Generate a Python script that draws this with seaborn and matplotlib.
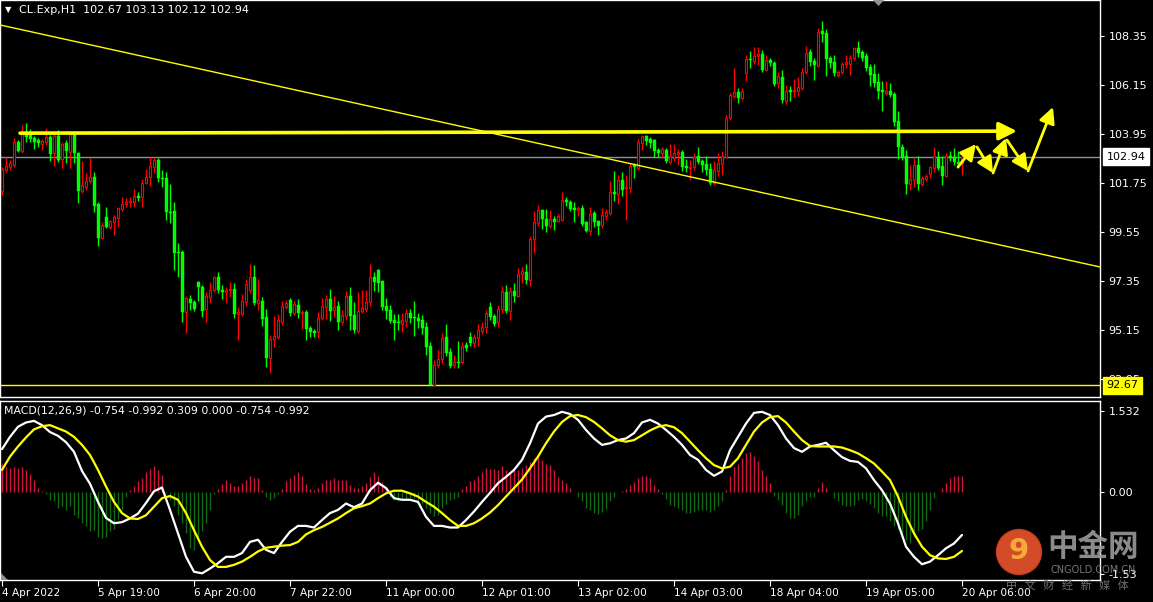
"""CL.Exp H1 K线 + MACD 走势图复刻"""
import numpy as np
import pandas as pd
import matplotlib
matplotlib.use('Agg')
import matplotlib.pyplot as plt
import matplotlib.transforms as mtransforms
from matplotlib.patches import Circle, Polygon
import seaborn as sns

# K线数据（每根一小时，从左到右）
opens = [
    101.39, 102.33, 102.47, 102.56, 103.59, 103.19, 104.04, 103.91, 103.77, 103.68,
    103.50, 103.59, 103.82, 103.10, 103.86, 102.83, 103.55, 103.14, 103.99, 103.10,
    101.39, 101.57, 101.84, 102.02, 100.81, 99.28, 100.23, 99.78, 100.00, 100.18,
    100.59, 100.81, 100.90, 100.90, 101.17, 101.12, 101.75, 102.02, 102.47, 102.78,
    101.98, 101.98, 100.45, 100.50, 98.65, 98.65, 95.96, 96.54, 96.41, 97.31,
    97.08, 96.10, 96.63, 96.95, 97.53, 96.95, 96.86, 96.95, 96.99, 95.87,
    95.87, 96.41, 96.95, 97.53, 96.36, 96.45, 95.74, 93.89, 94.75, 94.84,
    95.51, 96.19, 96.50, 95.92, 96.27, 95.92, 95.96, 95.24, 95.11, 95.06,
    95.69, 96.19, 96.54, 96.05, 96.23, 95.51, 95.78, 96.68, 95.83, 95.11,
    96.01, 96.10, 96.41, 97.53, 97.84, 97.35, 96.23, 96.05, 95.60, 95.51,
    95.42, 95.56, 95.92, 95.74, 95.69, 95.60, 95.29, 94.43, 92.67, 93.58,
    93.85, 94.84, 94.16, 93.58, 93.71, 93.71, 94.48, 94.84, 94.57, 94.79,
    95.11, 95.29, 96.19, 95.78, 95.51, 96.10, 96.86, 96.01, 96.91, 96.68,
    97.66, 97.75, 97.40, 99.24, 99.96, 100.54, 100.14, 99.82, 100.14, 100.05,
    100.09, 100.99, 100.90, 100.63, 100.54, 100.63, 100.00, 99.60, 100.41, 100.05,
    99.87, 100.27, 100.41, 101.35, 101.26, 101.89, 101.53, 101.53, 102.56, 102.42,
    103.55, 103.86, 103.73, 103.68, 103.23, 103.10, 103.23, 102.69, 102.87, 103.05,
    103.14, 102.51, 102.42, 102.47, 102.96, 102.74, 102.60, 102.38, 101.75, 102.29,
    102.60, 102.92, 104.67, 105.66, 105.84, 105.57, 106.69, 107.32, 107.23, 107.45,
    107.54, 106.82, 107.27, 107.14, 106.24, 106.51, 105.43, 105.93, 105.88, 105.88,
    106.02, 106.73, 107.63, 107.23, 107.00, 108.58, 108.49, 107.36, 107.18, 106.60,
    106.73, 107.09, 107.09, 107.36, 107.81, 107.63, 107.45, 106.96, 106.64, 106.29,
    105.93, 105.79, 105.88, 105.75, 104.53, 103.37, 102.96, 101.71, 101.89, 102.56,
    101.71, 101.93, 102.15, 102.42, 102.92, 102.51, 102.06, 102.96, 102.92, 102.69,
    102.67,
]
highs = [
    102.47, 102.92, 102.78, 103.77, 103.68, 104.36, 104.45, 104.18, 103.86, 103.77,
    103.73, 104.22, 103.91, 103.99, 104.13, 103.59, 103.68, 104.04, 104.04, 103.14,
    102.74, 102.20, 102.87, 102.24, 100.90, 100.00, 100.68, 100.09, 100.32, 100.68,
    101.12, 101.08, 101.12, 101.48, 101.35, 101.93, 102.38, 102.92, 102.92, 102.87,
    102.33, 102.24, 101.71, 100.90, 99.06, 98.74, 96.68, 96.72, 96.50, 97.35,
    97.17, 96.86, 97.31, 97.58, 97.75, 97.17, 97.08, 97.31, 97.26, 96.19,
    96.77, 97.44, 98.11, 98.07, 97.44, 96.63, 96.10, 94.93, 95.78, 95.87,
    96.45, 96.50, 96.59, 96.45, 96.54, 96.05, 96.05, 95.33, 95.20, 95.96,
    96.59, 96.72, 96.99, 96.68, 96.45, 96.05, 96.91, 97.08, 96.41, 96.86,
    96.95, 96.95, 98.11, 97.75, 97.89, 97.40, 96.59, 96.27, 95.87, 95.87,
    95.92, 96.10, 96.10, 96.45, 95.92, 95.83, 95.51, 94.61, 93.80, 94.25,
    95.02, 95.42, 94.34, 94.03, 94.66, 94.61, 94.61, 95.06, 94.97, 95.42,
    95.51, 96.05, 96.41, 95.87, 96.27, 97.13, 97.17, 97.08, 97.26, 97.93,
    97.98, 98.11, 99.37, 100.50, 100.77, 100.59, 100.59, 100.54, 100.27, 100.36,
    101.35, 101.12, 100.99, 100.90, 100.72, 100.77, 100.05, 100.68, 100.50, 100.09,
    100.63, 100.59, 101.84, 102.29, 102.11, 102.24, 102.11, 102.65, 102.65, 103.73,
    103.91, 103.91, 103.82, 103.73, 103.32, 103.37, 103.32, 103.50, 103.50, 103.28,
    103.23, 102.83, 102.78, 103.10, 103.37, 102.83, 102.96, 102.65, 102.74, 103.10,
    103.19, 104.80, 105.79, 106.91, 106.02, 106.02, 107.50, 107.68, 107.86, 107.86,
    107.72, 107.50, 107.36, 107.23, 106.73, 106.82, 106.15, 106.11, 106.42, 106.51,
    106.91, 107.90, 107.77, 107.36, 108.71, 109.03, 108.67, 107.45, 107.50, 106.82,
    107.18, 107.50, 107.50, 107.86, 108.13, 107.72, 107.59, 107.09, 107.09, 106.69,
    106.33, 106.33, 106.24, 105.84, 104.98, 103.50, 103.23, 102.56, 102.87, 102.96,
    102.06, 102.15, 102.51, 103.37, 103.19, 102.96, 103.10, 103.19, 103.32, 103.19,
    103.13,
]
lows = [
    101.21, 102.24, 102.33, 102.47, 103.14, 103.10, 103.59, 103.59, 103.28, 103.37,
    103.23, 103.46, 102.74, 102.51, 102.69, 102.42, 102.65, 102.42, 102.65, 100.85,
    101.30, 101.44, 101.75, 100.45, 98.92, 99.24, 99.73, 99.69, 99.42, 99.78,
    100.50, 100.68, 100.68, 100.68, 100.94, 100.68, 101.71, 101.62, 102.20, 101.80,
    101.57, 100.09, 99.96, 97.84, 97.53, 95.51, 95.02, 96.05, 96.01, 96.45,
    95.74, 95.51, 96.36, 96.86, 96.82, 96.54, 96.36, 96.63, 95.69, 94.70,
    95.78, 96.23, 96.82, 96.27, 96.05, 95.33, 93.49, 93.22, 94.39, 94.75,
    95.38, 96.10, 95.78, 95.83, 95.69, 95.20, 94.70, 94.84, 94.84, 94.79,
    95.60, 95.65, 95.56, 95.74, 95.15, 95.38, 95.60, 95.15, 95.02, 95.02,
    95.92, 95.96, 96.23, 96.91, 96.86, 96.05, 95.65, 95.47, 94.70, 95.15,
    95.06, 95.29, 95.47, 94.88, 95.24, 94.97, 94.03, 92.67, 92.62, 93.44,
    93.67, 93.98, 93.44, 93.44, 93.44, 93.62, 94.21, 94.43, 94.39, 94.43,
    94.97, 95.02, 95.60, 95.33, 95.29, 95.92, 95.92, 95.60, 96.41, 96.63,
    97.26, 97.22, 97.13, 98.61, 99.82, 99.69, 99.55, 99.73, 99.64, 100.00,
    100.05, 100.72, 100.50, 100.00, 100.27, 99.82, 99.55, 99.42, 99.78, 99.42,
    99.73, 100.09, 100.32, 100.94, 100.81, 101.17, 100.09, 101.30, 101.98, 102.33,
    103.23, 103.46, 103.32, 102.92, 102.92, 102.87, 102.65, 102.60, 102.74, 102.56,
    102.29, 102.24, 101.89, 102.33, 102.60, 102.24, 102.11, 101.66, 101.66, 102.06,
    102.11, 102.87, 104.58, 105.57, 105.34, 105.48, 106.33, 106.91, 107.09, 107.05,
    106.73, 106.78, 107.00, 106.11, 106.02, 105.34, 105.30, 105.43, 105.61, 105.66,
    105.93, 106.64, 107.00, 106.37, 106.96, 108.08, 106.55, 106.91, 106.55, 106.51,
    106.64, 106.91, 106.60, 107.27, 107.41, 107.23, 106.78, 106.11, 106.06, 105.52,
    104.98, 105.70, 105.61, 104.31, 102.83, 102.78, 101.26, 101.44, 101.57, 101.44,
    101.62, 101.84, 101.98, 102.24, 102.33, 101.66, 102.02, 102.74, 102.56, 102.42,
    102.12,
]
closes = [
    102.38, 102.51, 102.65, 103.59, 103.19, 104.04, 103.82, 103.73, 103.59, 103.55,
    103.64, 103.82, 103.05, 103.86, 102.78, 103.50, 103.19, 103.99, 103.10, 101.39,
    101.66, 101.84, 102.02, 100.72, 99.28, 99.87, 99.78, 100.05, 100.23, 100.63,
    100.81, 100.90, 100.94, 101.17, 101.08, 101.75, 102.02, 102.51, 102.78, 101.98,
    101.93, 100.45, 100.41, 98.61, 98.61, 95.96, 96.59, 96.36, 96.10, 97.08,
    96.01, 96.68, 96.95, 97.53, 96.95, 96.86, 96.95, 96.99, 95.87, 95.96,
    96.45, 97.22, 97.53, 96.36, 96.50, 95.65, 93.89, 94.75, 94.88, 95.60,
    96.23, 96.36, 95.92, 96.32, 95.92, 95.96, 95.20, 95.06, 95.02, 95.69,
    96.23, 96.54, 96.01, 96.19, 95.51, 95.83, 96.68, 95.78, 95.15, 96.01,
    96.14, 96.41, 97.53, 97.31, 97.26, 96.19, 96.01, 95.56, 95.47, 95.47,
    95.60, 95.92, 95.69, 95.69, 95.56, 95.24, 94.39, 92.67, 93.58, 93.85,
    94.79, 94.12, 93.53, 93.71, 93.67, 94.43, 94.34, 94.57, 94.84, 95.15,
    95.29, 95.92, 95.74, 95.42, 96.10, 96.91, 96.01, 96.91, 96.68, 97.66,
    97.80, 97.40, 99.24, 100.00, 100.54, 100.14, 99.82, 100.14, 100.00, 100.27,
    100.99, 100.90, 100.59, 100.54, 100.63, 99.91, 99.60, 100.36, 100.00, 99.82,
    100.32, 100.45, 101.35, 101.26, 101.89, 101.44, 101.57, 102.51, 102.47, 103.59,
    103.86, 103.64, 103.55, 103.19, 103.10, 103.28, 102.74, 102.96, 103.10, 103.14,
    102.47, 102.42, 102.47, 102.92, 102.69, 102.56, 102.33, 101.75, 102.33, 102.65,
    102.96, 104.67, 105.70, 105.84, 105.57, 105.88, 107.32, 107.27, 107.45, 107.54,
    106.82, 107.27, 107.14, 106.20, 106.55, 105.48, 105.88, 105.84, 105.93, 106.06,
    106.73, 107.59, 107.18, 107.05, 108.53, 108.44, 107.32, 107.14, 106.69, 106.73,
    107.09, 107.18, 107.36, 107.81, 107.59, 107.36, 106.91, 106.60, 106.24, 105.88,
    105.84, 105.88, 105.70, 104.49, 103.37, 102.92, 101.71, 101.93, 102.56, 101.71,
    101.98, 102.06, 102.47, 102.96, 102.42, 102.06, 102.96, 102.87, 102.69, 102.60,
    102.94,
]

# MACD 主线 / 信号线（每两根K线读一个点）
macd_bars = [
    0, 2, 4, 6, 8, 10, 12, 14, 16, 18, 20, 22, 24, 26, 28, 30, 32, 34, 36, 38,
    40, 42, 44, 46, 48, 50, 52, 54, 56, 58, 60, 62, 64, 66, 68, 70, 72, 74, 76, 78,
    80, 82, 84, 86, 88, 90, 92, 94, 96, 98, 100, 102, 104, 106, 108, 110, 112, 114, 116, 118,
    120, 122, 124, 126, 128, 130, 132, 134, 136, 138, 140, 142, 144, 146, 148, 150, 152, 154, 156, 158,
    160, 162, 164, 166, 168, 170, 172, 174, 176, 178, 180, 182, 184, 186, 188, 190, 192, 194, 196, 198,
    200, 202, 204, 206, 208, 210, 212, 214, 216, 218, 220, 222, 224, 226, 228, 230, 232, 234, 236, 238,
    240,
]
macd_main = [
    0.81, 1.04, 1.23, 1.31, 1.34, 1.26, 1.13, 1.06, 0.94, 0.76,
    0.40, 0.16, -0.18, -0.48, -0.58, -0.56, -0.49, -0.40, -0.20, 0.02,
    0.09, -0.33, -0.77, -1.21, -1.49, -1.52, -1.43, -1.33, -1.21, -1.21,
    -1.14, -0.93, -0.89, -1.08, -1.14, -0.93, -0.74, -0.63, -0.63, -0.66,
    -0.52, -0.39, -0.33, -0.21, -0.28, -0.21, 0.04, 0.18, 0.08, -0.11,
    -0.14, -0.14, -0.18, -0.46, -0.63, -0.63, -0.66, -0.66, -0.52, -0.36,
    -0.18, -0.01, 0.17, 0.29, 0.42, 0.61, 0.92, 1.29, 1.42, 1.45,
    1.51, 1.47, 1.36, 1.17, 1.01, 0.89, 0.92, 0.98, 1.01, 1.11,
    1.31, 1.36, 1.29, 1.17, 1.04, 0.89, 0.70, 0.61, 0.42, 0.31,
    0.39, 0.79, 1.04, 1.29, 1.49, 1.51, 1.45, 1.26, 1.01, 0.83,
    0.76, 0.86, 0.89, 0.93, 0.79, 0.66, 0.59, 0.57, 0.45, 0.23,
    0.04, -0.21, -0.58, -1.02, -1.21, -1.35, -1.30, -1.18, -1.05, -0.96,
    -0.80,
]
macd_signal = [
    0.42, 0.67, 0.86, 1.03, 1.18, 1.24, 1.26, 1.20, 1.14, 1.04,
    0.89, 0.70, 0.42, 0.11, -0.18, -0.39, -0.49, -0.50, -0.43, -0.27,
    -0.11, -0.07, -0.14, -0.39, -0.71, -1.02, -1.27, -1.40, -1.40, -1.36,
    -1.30, -1.21, -1.11, -1.04, -1.02, -1.00, -0.99, -0.93, -0.79, -0.71,
    -0.65, -0.57, -0.49, -0.39, -0.30, -0.26, -0.21, -0.11, -0.02, 0.03,
    0.03, -0.02, -0.08, -0.18, -0.27, -0.39, -0.52, -0.63, -0.63, -0.58,
    -0.49, -0.38, -0.24, -0.08, 0.08, 0.24, 0.45, 0.67, 0.92, 1.14,
    1.32, 1.43, 1.45, 1.41, 1.32, 1.20, 1.07, 0.98, 0.95, 0.98,
    1.07, 1.16, 1.23, 1.26, 1.22, 1.11, 0.95, 0.79, 0.64, 0.51,
    0.45, 0.48, 0.64, 0.89, 1.14, 1.31, 1.41, 1.43, 1.31, 1.14,
    0.98, 0.87, 0.86, 0.86, 0.86, 0.84, 0.79, 0.73, 0.64, 0.54,
    0.39, 0.23, -0.08, -0.46, -0.77, -1.02, -1.18, -1.24, -1.25, -1.21,
    -1.10,
]
# MACD 柱（每根K线一个）
macd_hist = [
    0.53, 0.47, 0.45, 0.47, 0.45, 0.47, 0.41, 0.34, 0.23, 0.09,
    0.02, -0.04, -0.15, -0.17, -0.30, -0.26, -0.34, -0.26, -0.43, -0.49,
    -0.58, -0.64, -0.73, -0.71, -0.84, -0.86, -0.83, -0.73, -0.68, -0.51,
    -0.34, -0.08, 0.04, 0.11, 0.21, 0.26, 0.39, 0.43, 0.49, 0.41,
    0.32, -0.02, -0.15, -0.26, -0.43, -0.58, -0.77, -1.05, -1.09, -0.90,
    -0.73, -0.58, -0.34, -0.04, 0.06, 0.15, 0.23, 0.17, 0.11, 0.11,
    0.17, 0.23, 0.30, 0.26, 0.26, 0.04, -0.08, -0.15, -0.11, -0.04,
    0.06, 0.21, 0.26, 0.32, 0.38, 0.30, 0.15, 0.06, 0.04, 0.09,
    0.17, 0.23, 0.24, 0.26, 0.23, 0.23, 0.24, 0.13, 0.08, 0.08,
    0.11, 0.17, 0.28, 0.38, 0.30, 0.19, 0.09, -0.08, -0.15, -0.17,
    -0.11, -0.13, -0.11, -0.11, -0.15, -0.21, -0.30, -0.39, -0.45, -0.43,
    -0.30, -0.21, -0.15, -0.13, -0.08, 0.06, 0.11, 0.21, 0.23, 0.30,
    0.39, 0.45, 0.43, 0.43, 0.41, 0.49, 0.41, 0.38, 0.41, 0.41,
    0.45, 0.51, 0.56, 0.64, 0.71, 0.60, 0.54, 0.51, 0.41, 0.28,
    0.23, 0.17, 0.08, 0.00, -0.08, -0.17, -0.30, -0.34, -0.38, -0.41,
    -0.36, -0.32, -0.17, -0.09, 0.00, 0.02, 0.06, 0.13, 0.19, 0.26,
    0.30, 0.30, 0.26, 0.13, 0.06, -0.04, -0.13, -0.23, -0.26, -0.30,
    -0.34, -0.39, -0.39, -0.36, -0.34, -0.34, -0.34, -0.36, -0.34, -0.26,
    -0.17, 0.04, 0.30, 0.47, 0.54, 0.64, 0.73, 0.75, 0.68, 0.58,
    0.41, 0.30, 0.17, -0.06, -0.15, -0.24, -0.39, -0.49, -0.49, -0.43,
    -0.26, -0.17, -0.09, -0.08, 0.09, 0.19, 0.09, 0.00, -0.11, -0.17,
    -0.24, -0.26, -0.26, -0.23, -0.15, -0.13, -0.17, -0.21, -0.30, -0.39,
    -0.45, -0.45, -0.53, -0.64, -0.68, -0.83, -0.90, -0.96, -0.84, -0.73,
    -0.68, -0.53, -0.34, -0.11, 0.00, 0.08, 0.17, 0.26, 0.30, 0.30,
    0.31,
]

# 坐标轴刻度
tick_bars = [0, 24, 48, 72, 96, 120, 144, 168, 192, 216, 240]
tick_labels = ['4 Apr 2022', '5 Apr 19:00', '6 Apr 20:00', '7 Apr 22:00', '11 Apr 00:00',
               '12 Apr 01:00', '13 Apr 02:00', '14 Apr 03:00', '18 Apr 04:00',
               '19 Apr 05:00', '20 Apr 06:00']
price_ticks = [108.35, 106.15, 103.95, 101.75, 99.55, 97.35, 95.15, 92.95]
macd_ticks = [1.532, 0.0, -1.53]
macd_tick_labels = ['1.532', '0.00', '-1.53']
macd_caption = 'MACD(12,26,9) -0.754 -0.992 0.309 0.000 -0.754 -0.992'

# 画线：趋势线、压力线、支撑线、预测走势箭头
last_price = 102.94
support_price = 92.67
trend_line = [(-0.5, 108.85), (274.5, 97.98)]
resist_line = [(4.5, 103.99), (253.75, 104.08)]
zigzag = [
    ((239.0, 102.47), (243.5, 103.50)),
    ((243.75, 103.37), (247.75, 102.20)),
    ((247.75, 102.20), (251.0, 103.77)),
    ((251.25, 103.68), (256.5, 102.29)),
    ((256.5, 102.29), (262.75, 105.16)),
]

UP = '#ff0000'
DOWN = '#00ff00'
YELLOW = '#ffff00'


def draw_candles(ax, df):
    up = df['close'] >= df['open']
    ax.vlines(df['bar'], df['low'], df['high'],
              colors=np.where(up, UP, DOWN), lw=1.0, zorder=2)
    body_lo = df[['open', 'close']].min(axis=1)
    body_h = (df['close'] - df['open']).abs().clip(lower=0.03)
    # 阳线空心红框，阴线实心绿
    ax.bar(df['bar'][up], body_h[up], bottom=body_lo[up], width=0.55,
           color='black', edgecolor=UP, linewidth=0.8, zorder=3)
    ax.bar(df['bar'][~up], body_h[~up], bottom=body_lo[~up], width=0.75,
           color=DOWN, edgecolor=DOWN, linewidth=0.3, zorder=3)


def main():
    sns.set_theme(style='ticks', rc={
        'axes.facecolor': 'black', 'figure.facecolor': 'black',
        'axes.edgecolor': 'white', 'text.color': 'white',
        'xtick.color': 'white', 'ytick.color': 'white',
        'axes.grid': False,
    })
    plt.rcParams['font.family'] = ['DejaVu Sans', 'Noto Sans CJK SC']

    W, H = 1153, 602
    fig = plt.figure(figsize=(W / 100, H / 100), dpi=100, facecolor='black')
    ax1 = fig.add_axes([0, (H - 397) / H, 1100 / W, 397 / H])
    ax2 = fig.add_axes([0, (H - 580) / H, 1100 / W, 179 / H])

    df = pd.DataFrame({'bar': np.arange(len(closes)), 'open': opens,
                       'high': highs, 'low': lows, 'close': closes})

    # ---- 主图 ----
    draw_candles(ax1, df)
    ax1.axhline(last_price, color='#8b929b', lw=1.0, zorder=1)
    ax1.axhline(support_price, color=YELLOW, lw=1.0, zorder=1)
    (x0, y0), (x1, y1) = trend_line
    ax1.plot([x0, x1], [y0, y1], color=YELLOW, lw=1.0, zorder=4)
    (x0, y0), (x1, y1) = resist_line
    ax1.annotate('', xy=(x1, y1), xytext=(x0, y0), zorder=5,
                 arrowprops=dict(arrowstyle='-|>,head_length=0.9,head_width=0.45',
                                 color=YELLOW, lw=2.6, shrinkA=0, shrinkB=0))
    for start, end in zigzag:
        ax1.annotate('', xy=end, xytext=start, zorder=5,
                     arrowprops=dict(arrowstyle='-|>,head_length=0.8,head_width=0.4',
                                     color=YELLOW, lw=2.0, shrinkA=0, shrinkB=0))

    ax1.set_xlim(-0.5, 274.5)
    ax1.set_ylim(92.14, 109.97)
    ax1.yaxis.tick_right()
    ax1.set_yticks(price_ticks)
    ax1.set_yticklabels([f'{p:.2f}' for p in price_ticks])
    ax1.tick_params(axis='y', colors='white', labelsize=8, length=3, pad=3, width=0.8)
    ax1.tick_params(axis='x', length=0, labelbottom=False)

    trans = mtransforms.blended_transform_factory(ax1.transAxes, ax1.transData)
    ax1.text(1.006, last_price, f'{last_price:.2f}', transform=trans, color='black',
             fontsize=8, va='center', ha='left', clip_on=False, zorder=10,
             bbox=dict(boxstyle='square,pad=0.32', fc='white', ec='white'))
    # 支撑价标签压在 92.95 刻度上（原图如此）
    ax1.text(1.006, support_price, f'{support_price:.2f}', transform=trans, color='black',
             fontsize=8, va='center', ha='left', clip_on=False, zorder=10,
             bbox=dict(boxstyle='square,pad=0.32', fc=YELLOW, ec=YELLOW))

    # ---- MACD 副图 ----
    hist = np.array(macd_hist)
    ax2.vlines(np.arange(len(hist)), 0, hist,
               colors=np.where(hist >= 0, '#d0143c', '#0f6a0f'), lw=1.0, zorder=2)
    mdf = pd.DataFrame({'bar': macd_bars, 'main': macd_main, 'signal': macd_signal})
    sns.lineplot(data=mdf, x='bar', y='main', color='white', lw=1.6, ax=ax2, zorder=3)
    sns.lineplot(data=mdf, x='bar', y='signal', color=YELLOW, lw=1.6, ax=ax2, zorder=3)
    ax2.set_xlabel('')
    ax2.set_ylabel('')
    ax2.set_xlim(-0.5, 274.5)
    ax2.set_ylim(-1.645, 1.713)
    ax2.yaxis.tick_right()
    ax2.set_yticks(macd_ticks)
    ax2.set_yticklabels(macd_tick_labels)
    ax2.tick_params(axis='y', colors='white', labelsize=8, length=3, pad=3, width=0.8)
    ax2.set_xticks(tick_bars)
    ax2.set_xticklabels(tick_labels, ha='left')
    ax2.tick_params(axis='x', colors='white', labelsize=7.6, length=4, pad=1.5, width=0.8)
    ax2.text(0.004, 0.945, macd_caption, transform=ax2.transAxes, color='white',
             fontsize=7.8, va='center', ha='left')

    for ax in (ax1, ax2):
        for sp in ax.spines.values():
            sp.set_color('white')
            sp.set_linewidth(1.0)
            sp.set_visible(True)

    # ---- 标题、小标记、水印（像素坐标层）----
    ov = fig.add_axes([0, 0, 1, 1], zorder=20)
    ov.set_xlim(0, W)
    ov.set_ylim(H, 0)
    ov.axis('off')
    ov.patch.set_visible(False)
    ov.text(5, 10, '\u25bc', color='white', fontsize=6, va='center', ha='left')
    ov.text(19, 10, f'CL.Exp,H1  {opens[-1]:.2f} {highs[-1]:.2f} {lows[-1]:.2f} {closes[-1]:.2f}',
            color='white', fontsize=8, va='center', ha='left')
    ov.add_patch(Polygon([(873, 0), (884, 0), (878.5, 6)], closed=True, fc='#8a949e', ec='none'))
    ov.add_patch(Polygon([(1, 573), (1, 580), (8, 580)], closed=True, fc='#8a949e', ec='none'))

    ov.add_patch(Circle((1019, 552), 22.5, fc='#e0502a', ec='#c8401f', lw=1, alpha=0.95))
    ov.text(1019, 551, '9', color='#f7a93a', fontsize=21, fontweight='bold',
            va='center', ha='center', family=['DejaVu Sans'])
    ov.text(1093, 547, '中金网', color='#9a9a9a', fontsize=22, fontweight='bold',
            va='center', ha='center', family=['Noto Sans CJK SC', 'DejaVu Sans'], alpha=0.9)
    ov.text(1093, 570, 'CNGOLD.COM.CN', color='#8a8a8a', fontsize=7.0,
            va='center', ha='center', alpha=0.85)
    ov.text(1067, 585, '中   文   财   经   新   媒   体', color='#7a7a7a',
            fontsize=8.0, va='center', ha='center',
            family=['Noto Sans CJK SC', 'DejaVu Sans'], alpha=0.9)

    fig.savefig('out.png', dpi=100, facecolor='black')


if __name__ == '__main__':
    main()
